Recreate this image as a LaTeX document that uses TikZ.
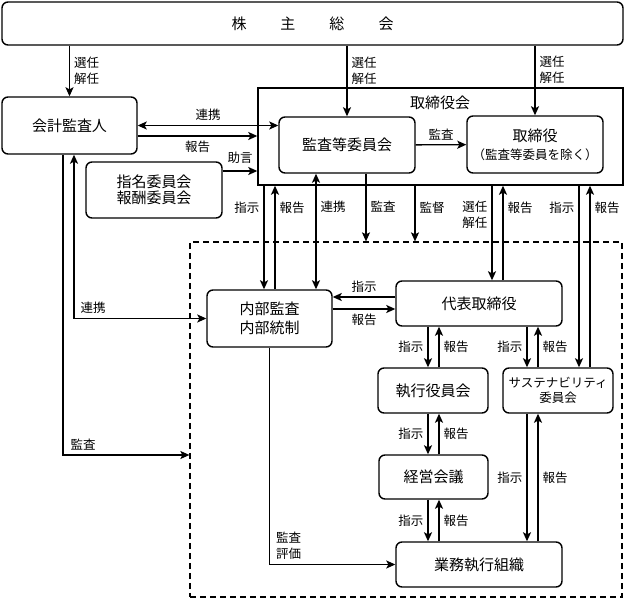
\documentclass[tikz,border=0pt]{standalone}
\usepackage{fontspec}
\setmainfont{Noto Sans CJK JP}
\usetikzlibrary{arrows.meta,positioning}
\tikzset{
  box/.style={draw,rounded corners=6pt,align=center,inner sep=0pt,font=\fontsize{15}{19}\selectfont},
  lbl/.style={font=\fontsize{12.5}{16}\selectfont,align=left,inner sep=4pt},
}
\begin{document}
\begin{tikzpicture}[x=1pt,y=-1pt,line width=1.4pt,>={Stealth[length=9pt,width=8pt,inset=2pt]}]
\useasboundingbox (0,0) rectangle (625,599);
% boxes
\node[box,minimum width=621,minimum height=43] (soukai) at (312.5,23.5) {株\hspace{34pt}主\hspace{34pt}総\hspace{34pt}会};
\node[box,minimum width=135,minimum height=57] (kaikei) at (69.5,125.5) {会計監査人};
\node[draw,minimum width=365,minimum height=97] (torikai) at (440.5,136.5) {};
\node[font=\fontsize{15}{19}\selectfont] (torikaiT) at (440,103) {取締役会};
\node[box,minimum width=136,minimum height=56] (kansa) at (347,145) {監査等委員会};
\node[box,minimum width=136,minimum height=57,font=\fontsize{15}{18}\selectfont] (torishimari) at (535,144.5) {取締役\\{\fontsize{12.5}{15}\selectfont （監査等委員を除く）}};
\node[box,minimum width=136,minimum height=56,font=\fontsize{15}{16.5}\selectfont] (shimei) at (154,190) {指名委員会\\報酬委員会};
\node[draw,dash pattern=on 6pt off 4pt,line width=1.2pt,minimum width=432,minimum height=355] (exec) at (406,419.5) {};
\node[box,minimum width=125,minimum height=57] (naibu) at (269.5,318.5) {内部監査\\内部統制};
\node[box,minimum width=166,minimum height=45] (daihyo) at (479,303.5) {代表取締役};
\node[box,minimum width=110,minimum height=45] (shikko) at (433,390.5) {執行役員会};
\node[box,minimum width=110,minimum height=45,font=\fontsize{12.5}{15}\selectfont] (susta) at (558,390.5) {サステナビリティ\\委員会};
\node[box,minimum width=109,minimum height=44] (keiei) at (433.5,477) {経営会議};
\node[box,minimum width=166,minimum height=45] (gyomu) at (479,564.5) {業務執行組織};
% columns and rows
\foreach \x in {63,74,264,275,316,366,415,428,439,492,503,527,538,579,590}
  \coordinate (v\x) at (\x,0);
\foreach \y in {136,171,297,309,455}
  \coordinate (h\y) at (0,\y);
% shareholders
\draw[->] (soukai.south -| kaikei.north) -- node[lbl,right] {選任\\解任} (kaikei.north);
\draw[->] (soukai.south -| kansa.north) -- node[lbl,right,pos=0.35] {選任\\解任} (kansa.north);
\draw[->] (soukai.south -| torishimari.north) -- node[lbl,right,pos=0.35] {選任\\解任} (torishimari.north);
% auditor
\draw[<->] (kaikei.east) -- node[lbl,above] {連携} (kansa.west |- kaikei.east);
\draw[->] (kaikei.east |- h136) -- node[lbl,below] {報告} (torikai.west |- h136);
\draw[->] (shimei.east |- h171) -- node[lbl,above=3pt] {助言} (torikai.west |- h171);
\draw[->] (kansa) -- node[lbl,above] {監査} (torishimari);
\draw[->] (kaikei.south -| v63) |- node[lbl,above right,pos=0.5,xshift=3pt] {監査} (exec.west |- h455);
\draw[<->] (kaikei.south -| v74) |- node[lbl,above right,pos=0.5,xshift=2pt] {連携} (naibu.west);
% board to execution
\draw[->] (torikai.south -| v264) -- node[lbl,left,pos=0.21] {指示} (naibu.north -| v264);
\draw[->] (naibu.north -| v275) -- node[lbl,right,pos=0.79] {報告} (torikai.south -| v275);
\draw[<->] (kansa.south -| v316) -- node[lbl,right,pos=0.29] {連携} (naibu.north -| v316);
\draw[->] (kansa.south -| v366) -- node[lbl,right,pos=0.49] {監査} (exec.north -| v366);
\draw[->] (torikai.south -| v415) -- node[lbl,right,pos=0.39] {監督} (exec.north -| v415);
\draw[->] (torikai.south -| v492) -- node[lbl,left,pos=0.31] {選任\\解任} (daihyo.north -| v492);
\draw[->] (daihyo.north -| v503) -- node[lbl,right,pos=0.77] {報告} (torikai.south -| v503);
\draw[->] (torikai.south -| v579) -- node[lbl,left,pos=0.12] {指示} (susta.north -| v579);
\draw[->] (susta.north -| v590) -- node[lbl,right,pos=0.88] {報告} (torikai.south -| v590);
% execution
\draw[->] (daihyo.west |- h297) -- node[lbl,above] {指示} (naibu.east |- h297);
\draw[->] (naibu.east |- h309) -- node[lbl,below] {報告} (daihyo.west |- h309);
\draw[->] (daihyo.south -| v428) -- node[lbl,left] {指示} (shikko.north -| v428);
\draw[->] (shikko.north -| v439) -- node[lbl,right] {報告} (daihyo.south -| v439);
\draw[->] (daihyo.south -| v527) -- node[lbl,left] {指示} (susta.north -| v527);
\draw[->] (susta.north -| v538) -- node[lbl,right] {報告} (daihyo.south -| v538);
\draw[->] (shikko.south -| v428) -- node[lbl,left] {指示} (keiei.north -| v428);
\draw[->] (keiei.north -| v439) -- node[lbl,right] {報告} (shikko.south -| v439);
\draw[->] (keiei.south -| v428) -- node[lbl,left] {指示} (gyomu.north -| v428);
\draw[->] (gyomu.north -| v439) -- node[lbl,right] {報告} (keiei.south -| v439);
\draw[->] (susta.south -| v527) -- node[lbl,left] {指示} (gyomu.north -| v527);
\draw[->] (gyomu.north -| v538) -- node[lbl,right] {報告} (susta.south -| v538);
\draw[->] (naibu.south) |- node[lbl,above right,pos=0.5,xshift=2pt] {監査\\評価} (gyomu.west);
\end{tikzpicture}
\end{document}
